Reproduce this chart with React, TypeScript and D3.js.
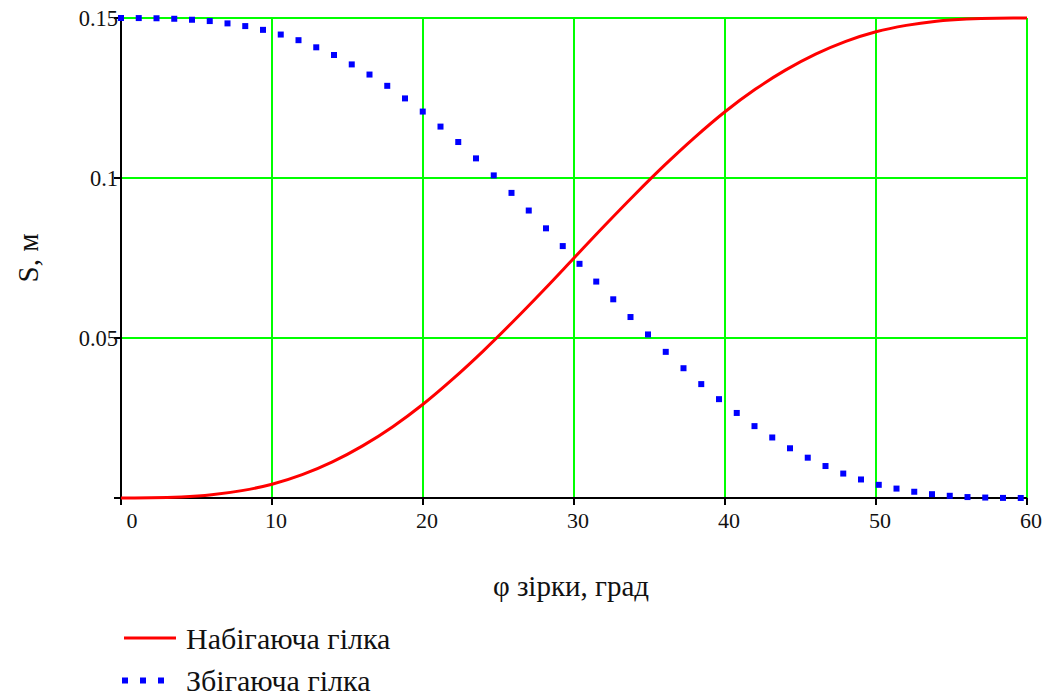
import React from "react";
import * as d3 from "d3";

// φ of the sprocket, degrees
const phi: number[] = [0, 2, 4, 6, 8, 10, 12, 14, 16, 18, 20, 22, 24, 26, 28, 30, 32, 34, 36, 38, 40, 42, 44, 46, 48, 50, 52, 54, 56, 58, 60];
// Набігаюча гілка (S, m)
const runningOn: number[] = [0, 0.00004, 0.0003, 0.001, 0.0023, 0.0043, 0.0073, 0.0113, 0.0163, 0.0223, 0.0293, 0.0373, 0.046, 0.0553, 0.065, 0.075, 0.085, 0.0947, 0.104, 0.1127, 0.1207, 0.1277, 0.1337, 0.1387, 0.1427, 0.1457, 0.1477, 0.149, 0.1497, 0.14996, 0.15];
// Збігаюча гілка (S, m)
const runningOff: number[] = [0.15, 0.14996, 0.1497, 0.149, 0.1477, 0.1457, 0.1427, 0.1387, 0.1337, 0.1277, 0.1207, 0.1127, 0.104, 0.0947, 0.085, 0.075, 0.065, 0.0553, 0.046, 0.0373, 0.0293, 0.0223, 0.0163, 0.0113, 0.0073, 0.0043, 0.0023, 0.001, 0.0003, 0.00004, 0];

const xTicks: number[] = [0, 10, 20, 30, 40, 50, 60];
const yTicks: number[] = [0, 0.05, 0.1, 0.15];
const yTickLabels: string[] = ["", "0.05", "0.1", "0.15"];
const xTitle = "φ зірки, град";
const yTitle = "S, м";
const seriesNames: string[] = ["Набігаюча гілка", "Збігаюча гілка"];

const W = 1056;
const H = 697;
const FONT = "serif";
const txt = { fontFamily: FONT };

export default function App() {
  const x = d3.scaleLinear().domain([0, 60]).range([121, 1027]);
  const y = d3.scaleLinear().domain([0, 0.15]).range([498, 18]);

  const line = (vals: number[]) =>
    d3
      .line<number>()
      .x((_, i) => x(phi[i]))
      .y((v) => y(v))
      .curve(d3.curveMonotoneX)(vals) as string;

  // dotted pattern like the original: dots every ~17.6 px of pixel-step (Chebyshev) length
  const dots = (vals: number[]) => {
    const interp = d3.scaleLinear<number, number>().domain(phi).range(vals);
    const pts: [number, number][] = [];
    const step = 17.6;
    let acc = step;
    let px = x(0);
    let py = y(interp(0));
    for (let sx = x.range()[0]; sx <= x.range()[1]; sx += 0.25) {
      const cy = y(interp(x.invert(sx)));
      acc += Math.max(Math.abs(sx - px), Math.abs(cy - py));
      px = sx;
      py = cy;
      if (acc >= step) {
        pts.push([sx, cy]);
        acc = 0;
      }
    }
    return pts;
  };

  const [x0, x1] = x.range();
  const [y0, y1] = y.range();

  return (
    <svg width={W} height={H} style={{ position: "absolute", left: 0, top: 0, background: "#fff" }}>
      <rect width={W} height={H} fill="#fff" />
      {/* grid */}
      {xTicks.filter((t) => t > 0).map((t) => (
        <line key={"gx" + t} x1={x(t)} x2={x(t)} y1={y1} y2={y0} stroke="#00ff00" strokeWidth={2} />
      ))}
      {yTicks.filter((t) => t > 0).map((t) => (
        <line key={"gy" + t} x1={x0} x2={x1} y1={y(t)} y2={y(t)} stroke="#00ff00" strokeWidth={2} />
      ))}
      {/* axes */}
      <line x1={x0} x2={x0} y1={y1} y2={y0 + 5} stroke="#000" strokeWidth={2} />
      <line x1={x0 - 7} x2={x1} y1={y0} y2={y0} stroke="#000" strokeWidth={2} />
      {xTicks.map((t) => (
        <line key={"tx" + t} x1={x(t)} x2={x(t)} y1={y0} y2={y0 + 7} stroke="#000" strokeWidth={2} />
      ))}
      {yTicks.map((t) => (
        <line key={"ty" + t} x1={x0 - 7} x2={x0} y1={y(t)} y2={y(t)} stroke="#000" strokeWidth={2} />
      ))}
      {/* tick labels */}
      {xTicks.map((t) => (
        <text key={"lx" + t} style={txt} x={x(t) + (t === 0 ? 11 : 4)} y={y0 + 30} fontSize={22} textAnchor="middle" fill="#111">
          {String(t)}
        </text>
      ))}
      {yTicks.map((t, i) => (
        <text key={"ly" + t} style={txt} x={x0 - 3} y={y(t) + 8} fontSize={22.5} textAnchor="end" fill="#111">
          {yTickLabels[i]}
        </text>
      ))}
      {/* series */}
      <path d={line(runningOn)} fill="none" stroke="#ff0000" strokeWidth={3} />
      {dots(runningOff).map(([cx, cy], i) => (
        <rect key={"d" + i} x={cx - 3} y={cy - 3} width={6} height={6} fill="#0000ff" />
      ))}
      {/* titles */}
      <text style={txt} x={571} y={596} fontSize={29} textAnchor="middle" fill="#111">{xTitle}</text>
      <text style={txt} transform={`translate(38,258) rotate(-90)`} fontSize={29} textAnchor="middle" fill="#111">{yTitle}</text>
      {/* legend */}
      <line x1={124} x2={176} y1={638} y2={638} stroke="#ff0000" strokeWidth={3} />
      <text style={txt} x={186} y={649} fontSize={30} fill="#111">{seriesNames[0]}</text>
      <line x1={122} x2={166} y1={680.5} y2={680.5} stroke="#0000ff" strokeWidth={6} strokeDasharray="6 12" />
      <text style={txt} x={186} y={691} fontSize={30} fill="#111">{seriesNames[1]}</text>
    </svg>
  );
}
